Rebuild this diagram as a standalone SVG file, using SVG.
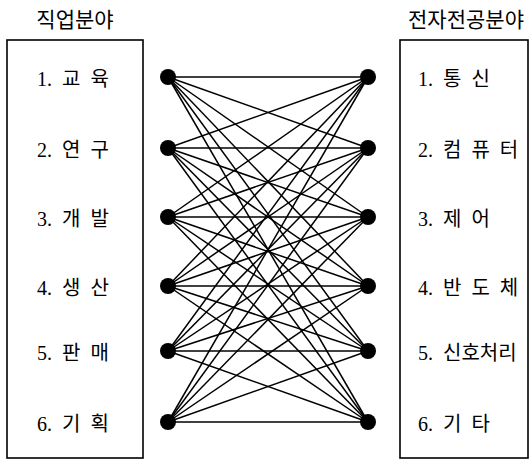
<svg xmlns="http://www.w3.org/2000/svg" width="532" height="462" viewBox="0 0 532 462">
<style>
.t{font-family:"Liberation Serif","Noto Sans CJK KR",serif;font-size:21px;fill:#000}
.l{font-family:"Liberation Serif","Noto Sans CJK KR",serif;font-size:20px;word-spacing:5px;fill:#000}
.box{fill:#fff;stroke:#000;stroke-width:1.6}
.e line{stroke:#000;stroke-width:1.5}
.n{fill:#000}
</style>
<rect width="532" height="462" fill="#fff"/>
<text class="t" x="75" y="27" text-anchor="middle">직업분야</text>
<text class="t" x="466" y="27" text-anchor="middle">전자전공분야</text>
<g id="left-box"><rect class="box" x="7" y="40" width="136" height="418"/></g>
<g id="right-box"><rect class="box" x="400" y="40" width="128" height="418"/></g>
<g id="connectors" class="e">
<line x1="168" y1="77" x2="368" y2="77"/><line x1="168" y1="77" x2="368" y2="148"/><line x1="168" y1="77" x2="368" y2="217"/><line x1="168" y1="77" x2="368" y2="286"/><line x1="168" y1="77" x2="368" y2="351"/><line x1="168" y1="77" x2="368" y2="422"/>
<line x1="168" y1="148" x2="368" y2="77"/><line x1="168" y1="148" x2="368" y2="148"/><line x1="168" y1="148" x2="368" y2="217"/><line x1="168" y1="148" x2="368" y2="286"/><line x1="168" y1="148" x2="368" y2="351"/><line x1="168" y1="148" x2="368" y2="422"/>
<line x1="168" y1="217" x2="368" y2="77"/><line x1="168" y1="217" x2="368" y2="148"/><line x1="168" y1="217" x2="368" y2="217"/><line x1="168" y1="217" x2="368" y2="286"/><line x1="168" y1="217" x2="368" y2="351"/><line x1="168" y1="217" x2="368" y2="422"/>
<line x1="168" y1="286" x2="368" y2="77"/><line x1="168" y1="286" x2="368" y2="148"/><line x1="168" y1="286" x2="368" y2="217"/><line x1="168" y1="286" x2="368" y2="286"/><line x1="168" y1="286" x2="368" y2="351"/><line x1="168" y1="286" x2="368" y2="422"/>
<line x1="168" y1="351" x2="368" y2="77"/><line x1="168" y1="351" x2="368" y2="148"/><line x1="168" y1="351" x2="368" y2="217"/><line x1="168" y1="351" x2="368" y2="286"/><line x1="168" y1="351" x2="368" y2="351"/><line x1="168" y1="351" x2="368" y2="422"/>
<line x1="168" y1="422" x2="368" y2="77"/><line x1="168" y1="422" x2="368" y2="148"/><line x1="168" y1="422" x2="368" y2="217"/><line x1="168" y1="422" x2="368" y2="286"/><line x1="168" y1="422" x2="368" y2="351"/><line x1="168" y1="422" x2="368" y2="422"/>
</g>
<g id="job-1"><circle class="n" cx="168" cy="77" r="8"/><text class="l" x="37" y="86">1. 교 육</text></g>
<g id="job-2"><circle class="n" cx="168" cy="148" r="8"/><text class="l" x="37" y="157">2. 연 구</text></g>
<g id="job-3"><circle class="n" cx="168" cy="217" r="8"/><text class="l" x="37" y="226">3. 개 발</text></g>
<g id="job-4"><circle class="n" cx="168" cy="286" r="8"/><text class="l" x="37" y="295">4. 생 산</text></g>
<g id="job-5"><circle class="n" cx="168" cy="351" r="8"/><text class="l" x="37" y="360">5. 판 매</text></g>
<g id="job-6"><circle class="n" cx="168" cy="422" r="8"/><text class="l" x="37" y="431">6. 기 획</text></g>
<g id="major-1"><circle class="n" cx="368" cy="77" r="8"/><text class="l" x="418" y="86">1. 통 신</text></g>
<g id="major-2"><circle class="n" cx="368" cy="148" r="8"/><text class="l" x="418" y="157">2. 컴 퓨 터</text></g>
<g id="major-3"><circle class="n" cx="368" cy="217" r="8"/><text class="l" x="418" y="226">3. 제 어</text></g>
<g id="major-4"><circle class="n" cx="368" cy="286" r="8"/><text class="l" x="418" y="295">4. 반 도 체</text></g>
<g id="major-5"><circle class="n" cx="368" cy="351" r="8"/><text class="l" x="418" y="360">5. 신호처리</text></g>
<g id="major-6"><circle class="n" cx="368" cy="422" r="8"/><text class="l" x="418" y="431">6. 기 타</text></g>
</svg>
